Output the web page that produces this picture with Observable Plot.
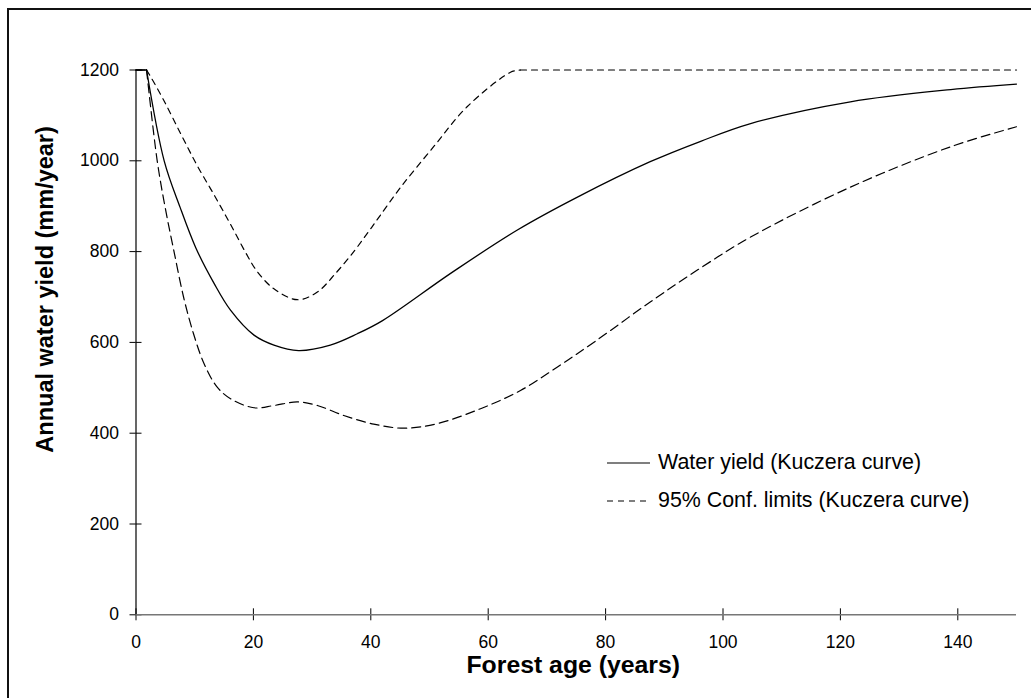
<!DOCTYPE html>
<html><head><meta charset="utf-8">
<script src="https://cdn.jsdelivr.net/npm/d3@7"></script>
<script src="https://cdn.jsdelivr.net/npm/@observablehq/plot@0.6"></script>
<style>
body{margin:0;background:#fff;font-family:"Liberation Sans",Arial,sans-serif;}
#wrap{position:relative;width:1031px;height:698px;overflow:hidden;background:#fff;}
#frame{position:absolute;left:7px;top:8px;width:1100px;height:800px;border:2px solid #111;box-sizing:border-box;pointer-events:none}
#legend{position:absolute;left:0;top:0;pointer-events:none}
</style></head>
<body><div id="wrap"><div id="chart"></div><div id="frame"></div><svg id="legend" width="1031" height="698"></svg></div>
<script>
// Water yield (Kuczera curve)
const yieldAge   = [0, 1.8, 4.8, 7.5, 10.2, 13.3, 16.1, 20.1, 23.5, 27.7, 33.1, 37.7, 42, 53.6, 64.9, 75.2, 87.6, 96.2, 104.7, 121.7, 138.8, 150];
const yieldValue = [1200, 1200, 1000, 898, 808, 730, 671, 616, 594, 582, 594, 619, 648, 752, 847, 920, 998, 1043, 1082, 1130, 1157, 1169];
// Lower 95% confidence limit
const lowerAge   = [0, 1.8, 3.6, 5.0, 6.4, 8.1, 9.8, 11.6, 13.8, 16.1, 20.1, 23.5, 27.5, 30.9, 35.4, 40.5, 45.6, 51.3, 58.7, 65.5, 71.8, 78.3, 87.6, 96.2, 104.7, 121.7, 138.8, 150];
const lowerValue = [1200, 1200, 1001, 895, 805, 700, 619, 553, 502, 476, 456, 461, 469, 461, 439, 420, 411, 421, 454, 494, 546, 603, 689, 764, 832, 942, 1031, 1075];
// Upper 95% confidence limit
const upperAge   = [0, 1.8, 2.5, 4.7, 7.6, 10.4, 13.3, 16.1, 18.8, 20.6, 23.5, 27.5, 30.9, 34, 37.1, 39.4, 41.4, 45.1, 50.7, 56.4, 63.8, 65.5, 150];
const upperValue = [1200, 1200, 1185, 1134, 1060, 990, 925, 860, 795, 757, 718, 694, 711, 752, 800, 840, 876, 942, 1031, 1119, 1195, 1200, 1200];

const xTicks = [0, 20, 40, 60, 80, 100, 120, 140];
const yTicks = [0, 200, 400, 600, 800, 1000, 1200];
const xTitle = "Forest age (years)";
const yTitle = "Annual water yield (mm/year)";
const legendLabels = ["Water yield (Kuczera curve)", "95% Conf. limits (Kuczera curve)"];

const toRows = (ages, vals) => ages.map((a, i) => ({age: a, value: vals[i]}));
const yieldRows = toRows(yieldAge, yieldValue);
const lowerRows = toRows(lowerAge, lowerValue);
const upperRows = toRows(upperAge, upperValue);

// split each series into flat (linear) parts at 1200 and the smooth curved part
function pieces(rows) {
  const startIdx = rows.findIndex((r, i) => i > 0 && r.value < 1200) - 1;
  let endIdx = rows.length - 1;
  for (let i = startIdx + 1; i < rows.length; i++) { if (rows[i].value === 1200) { endIdx = i; break; } }
  return {
    head: rows.slice(0, startIdx + 1),
    body: rows.slice(startIdx, endIdx + 1),
    tail: rows.slice(endIdx)
  };
}

const font = '"Liberation Sans", Arial, sans-serif';
const seriesMarks = [];
[[upperRows, "6,5", 1.2], [lowerRows, "9,5", 1.2], [yieldRows, null, 1.3]].forEach(([rows, dash, sw]) => {
  const p = pieces(rows);
  const style = {x: "age", y: "value", stroke: "#000", strokeWidth: sw, strokeDasharray: dash};
  seriesMarks.push(Plot.line(p.head, {...style, curve: "linear"}));
  seriesMarks.push(Plot.line(p.body, {...style, curve: "catmull-rom"}));
  if (p.tail.length > 1) seriesMarks.push(Plot.line(p.tail, {...style, curve: "linear"}));
});

const chart = Plot.plot({
  width: 1031,
  height: 698,
  marginLeft: 135.5,
  marginRight: 15,
  marginTop: 69.5,
  marginBottom: 83.7,
  style: {fontFamily: font, fontSize: "17.5px", color: "#000", background: "#fff"},
  x: {domain: [0, 150]},
  y: {domain: [0, 1200]},
  marks: [
    Plot.axisX({ticks: xTicks, tickSize: 6, tickPadding: 15, tickFormat: d => String(d), fontSize: 17.5, label: null, stroke: "#000", fill: "#000"}),
    Plot.axisX({ticks: xTicks, tickSize: 6, dy: -6, tickFormat: () => "", label: null, stroke: "#000"}),
    Plot.axisY({ticks: yTicks, tickSize: 6, tickPadding: 11, tickFormat: d => String(d), fontSize: 17.5, label: null, stroke: "#000", fill: "#000"}),
    Plot.axisY({ticks: yTicks, tickSize: 6, dx: 6, tickFormat: () => "", label: null, stroke: "#000"}),
    Plot.ruleY([0], {stroke: "#777", strokeWidth: 1.5}),
    Plot.ruleX([0], {stroke: "#000", strokeWidth: 1.2}),
    ...seriesMarks,
    Plot.text([xTitle], {frameAnchor: "bottom", dx: -3, dy: 50, fontSize: 24.8, fontWeight: "bold", lineAnchor: "middle", textAnchor: "middle", fill: "#000"}),
    Plot.text([yTitle], {frameAnchor: "left", rotate: -90, dx: -91, dy: -53, fontSize: 23.5, fontWeight: "bold", lineAnchor: "middle", textAnchor: "middle", fill: "#000"})
  ]
});
document.getElementById("chart").appendChild(chart);

// Legend overlay
const lg = d3.select("#legend");
const rows = [{label: legendLabels[0], dash: null, ly: 463, ty: 469, x2: 650},
              {label: legendLabels[1], dash: "6,5", ly: 501, ty: 507, x2: 648}];
rows.forEach(r => {
  lg.append("line").attr("x1", 607).attr("x2", r.x2).attr("y1", r.ly).attr("y2", r.ly)
    .attr("stroke", "#000").attr("stroke-width", 1.2).attr("stroke-dasharray", r.dash);
  lg.append("text").attr("x", 658).attr("y", r.ty).attr("font-size", 21.4)
    .attr("font-family", font).attr("fill", "#000").text(r.label);
});
</script>
</body></html>
